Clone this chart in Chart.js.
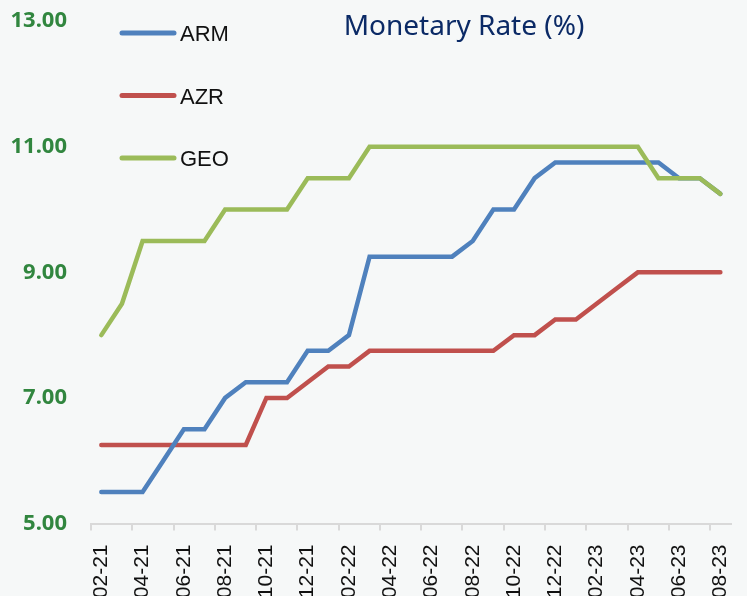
<!DOCTYPE html>
<html>
  <head>
    <title>Monetary Rate (%)</title>
    <script src="https://cdn.jsdelivr.net/npm/chart.js"></script>
    <style>
      html,
      body {
        margin: 0;
        padding: 0;
        background: #f6f8f8;
        overflow: hidden;
      }
      /* a bit wider than the window so the plot can run close to the right edge */
      #wrap {
        position: relative;
        width: 760px;
        height: 596px;
      }
    </style>
  </head>
  <body>
    <div id="wrap"><canvas id="rateChart"></canvas></div>

    <script>
      // months, 02-21 .. 08-23
      const months = [
        "02-21", "03-21", "04-21", "05-21", "06-21", "07-21", "08-21", "09-21",
        "10-21", "11-21", "12-21", "01-22", "02-22", "03-22", "04-22", "05-22",
        "06-22", "07-22", "08-22", "09-22", "10-22", "11-22", "12-22", "01-23",
        "02-23", "03-23", "04-23", "05-23", "06-23", "07-23", "08-23",
      ];

      const arm = [
        5.5, 5.5, 5.5, 6.0, 6.5, 6.5, 7.0, 7.25, 7.25, 7.25, 7.75, 7.75, 8.0,
        9.25, 9.25, 9.25, 9.25, 9.25, 9.5, 10.0, 10.0, 10.5, 10.75, 10.75,
        10.75, 10.75, 10.75, 10.75, 10.5, 10.5, 10.25,
      ];
      const azr = [
        6.25, 6.25, 6.25, 6.25, 6.25, 6.25, 6.25, 6.25, 7.0, 7.0, 7.25, 7.5,
        7.5, 7.75, 7.75, 7.75, 7.75, 7.75, 7.75, 7.75, 8.0, 8.0, 8.25, 8.25,
        8.5, 8.75, 9.0, 9.0, 9.0, 9.0, 9.0,
      ];
      const geo = [
        8.0, 8.5, 9.5, 9.5, 9.5, 9.5, 10.0, 10.0, 10.0, 10.0, 10.5, 10.5, 10.5,
        11.0, 11.0, 11.0, 11.0, 11.0, 11.0, 11.0, 11.0, 11.0, 11.0, 11.0, 11.0,
        11.0, 11.0, 10.5, 10.5, 10.5, 10.25,
      ];

      const seriesNames = ["ARM", "AZR", "GEO"];
      const seriesColors = ["#4f81bd", "#c0504d", "#9bbb59"];
      const chartTitle = "Monetary Rate (%)";

      // title + legend sit inside the plot, so draw them by hand
      const overlay = {
        id: "overlay",
        afterDraw(chart) {
          const ctx = chart.ctx;
          ctx.save();

          ctx.fillStyle = "#0b2a66";
          ctx.font = "28px 'Noto Sans'";
          ctx.textAlign = "center";
          ctx.textBaseline = "alphabetic";
          ctx.fillText(chartTitle, 464, 35);

          ctx.lineCap = "round";
          ctx.lineWidth = 5;
          ctx.font = "22px 'Liberation Sans'";
          ctx.textAlign = "left";
          seriesNames.forEach((name, i) => {
            const y = 33 + i * 62.5;
            ctx.strokeStyle = seriesColors[i];
            ctx.beginPath();
            ctx.moveTo(122, y);
            ctx.lineTo(174, y);
            ctx.stroke();
            ctx.fillStyle = "#111";
            ctx.fillText(name, 180, y + 8);
          });

          ctx.restore();
        },
      };

      new Chart(document.getElementById("rateChart"), {
        type: "line",
        data: {
          labels: months,
          datasets: [
            {
              label: "ARM",
              data: arm,
              borderColor: seriesColors[0],
              order: 1,
            },
            {
              label: "AZR",
              data: azr,
              borderColor: seriesColors[1],
              order: 2,
            },
            {
              label: "GEO",
              data: geo,
              borderColor: seriesColors[2],
              order: 0,
            },
          ],
        },
        options: {
          responsive: true,
          maintainAspectRatio: false,
          animation: false,
          layout: { padding: { left: 0, right: 27, top: 0, bottom: 0 } },
          elements: {
            point: { radius: 0 },
            line: {
              borderWidth: 4.5,
              tension: 0,
              borderCapStyle: "round",
              fill: false,
            },
          },
          plugins: {
            legend: { display: false },
            title: { display: false },
            tooltip: { enabled: false },
          },
          scales: {
            x: {
              offset: true,
              border: { color: "#d9d9d9", width: 2 },
              grid: {
                offset: true,
                drawOnChartArea: false,
                tickLength: 7,
                lineWidth: 2,
                color: (c) => (c.index % 2 === 0 ? "#d9d9d9" : "transparent"),
              },
              ticks: {
                autoSkip: false,
                minRotation: 90,
                maxRotation: 90,
                padding: 14,
                color: "#111",
                font: { family: "'Liberation Sans'", size: 21 },
                callback: (v, i) => (i % 2 === 0 ? months[i] : ""),
              },
              afterFit: (scale) => {
                scale.height = 72.5;
              },
            },
            y: {
              min: 5,
              max: 13,
              border: { display: false },
              // invisible tick marks give the label gap without pushing the plot down
              grid: {
                drawOnChartArea: false,
                drawTicks: true,
                tickLength: 16,
                color: "transparent",
              },
              ticks: {
                stepSize: 2,
                padding: 8,
                color: "#31863f",
                font: { family: "'Noto Sans'", size: 22, weight: "bold" },
                callback: (v) => v.toFixed(2),
              },
              afterFit: (scale) => {
                scale.width = 91;
              },
            },
          },
        },
        plugins: [overlay],
      });
    </script>
  </body>
</html>
